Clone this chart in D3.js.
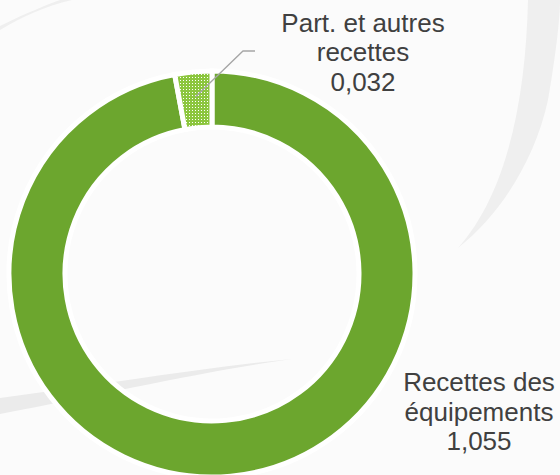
<!DOCTYPE html>
<html>
<head>
<meta charset="utf-8">
<script src="https://cdn.jsdelivr.net/npm/d3@7"></script>
<style>
  body { margin: 0; background: #fbfbfb; }
  svg { display: block; font-family: "Liberation Sans", Arial, sans-serif; }
</style>
</head>
<body>
<svg id="chart"></svg>
<script>
// donnees
var categories = ['Recettes des équipements', 'Part. et autres recettes']
var values = [1.055, 0.032]
var labelLines = [['Recettes des', 'équipements'], ['Part. et autres', 'recettes']]

var width = 560, height = 475
var cx = 212, cy = 274
var outerR = 203, innerR = 147

var svg = d3.select('#chart').attr('width', width).attr('height', height)

var fr = d3.formatLocale({decimal: ',', thousands: ' ', grouping: [3], currency: ['', ' €']})
var fmt = fr.format('.3f')

// filigrane en fond
var bg = svg.append('g').attr('fill', '#efefef')
bg.append('path').attr('d', 'M560,0 L528,0 C526,90 510,190 458,248 C500,215 535,160 548,100 C555,60 560,20 560,0 Z')
bg.append('path').attr('d', 'M0,398 C100,385 200,368 292,359 C200,372 110,393 0,414 Z').attr('fill', '#ebebeb')
bg.append('path').attr('d', 'M0,30 C20,18 45,6 72,0 L60,0 C38,8 16,18 0,26 Z')

// motif pointille
var defs = svg.append('defs')
var pat = defs.append('pattern').attr('id', 'dots')
  .attr('width', 3).attr('height', 3).attr('patternUnits', 'userSpaceOnUse')
pat.append('rect').attr('width', 3).attr('height', 3).attr('fill', '#8cc63e')
pat.append('rect').attr('x', 1).attr('y', 1).attr('width', 1).attr('height', 1).attr('fill', '#ffffff')

var fills = ['#6ca62e', 'url(#dots)']

var pie = d3.pie().sort(null).value(d => d)
var arcs = pie(values)
var arc = d3.arc().innerRadius(innerR).outerRadius(outerR)

var g = svg.append('g').attr('transform', 'translate(' + cx + ',' + cy + ')')

g.selectAll('path.slice').data(arcs).enter().append('path')
  .attr('class', 'slice')
  .attr('d', arc)
  .attr('fill', (d, i) => fills[i])
  .attr('stroke', '#ffffff')
  .attr('stroke-width', 5)
  .attr('stroke-linejoin', 'miter')

// ligne de rappel pour la petite part
var lineArc = d3.arc().innerRadius(178).outerRadius(178)
var p0 = lineArc.centroid(arcs[1])
var p1 = [243 - cx, 51 - cy]
var p2 = [255 - cx, 51 - cy]
g.append('polyline')
  .attr('points', [p0, p1, p2].map(p => p.join(',')).join(' '))
  .attr('fill', 'none')
  .attr('stroke', '#a6a6a6')
  .attr('stroke-width', 1.3)

// etiquettes
var labelPos = [[479, 391], [363, 31.5]]
var lh = 29.6

arcs.forEach(function (d, i) {
  var t = svg.append('text')
    .attr('x', labelPos[i][0]).attr('y', labelPos[i][1])
    .attr('text-anchor', 'middle')
    .attr('fill', '#404040')
    .style('font-size', '26px')
  var lines = labelLines[i].concat([fmt(values[i])])
  lines.forEach(function (s, k) {
    t.append('tspan').attr('x', labelPos[i][0]).attr('y', labelPos[i][1] + k * lh).text(s)
  })
})
</script>
</body>
</html>
